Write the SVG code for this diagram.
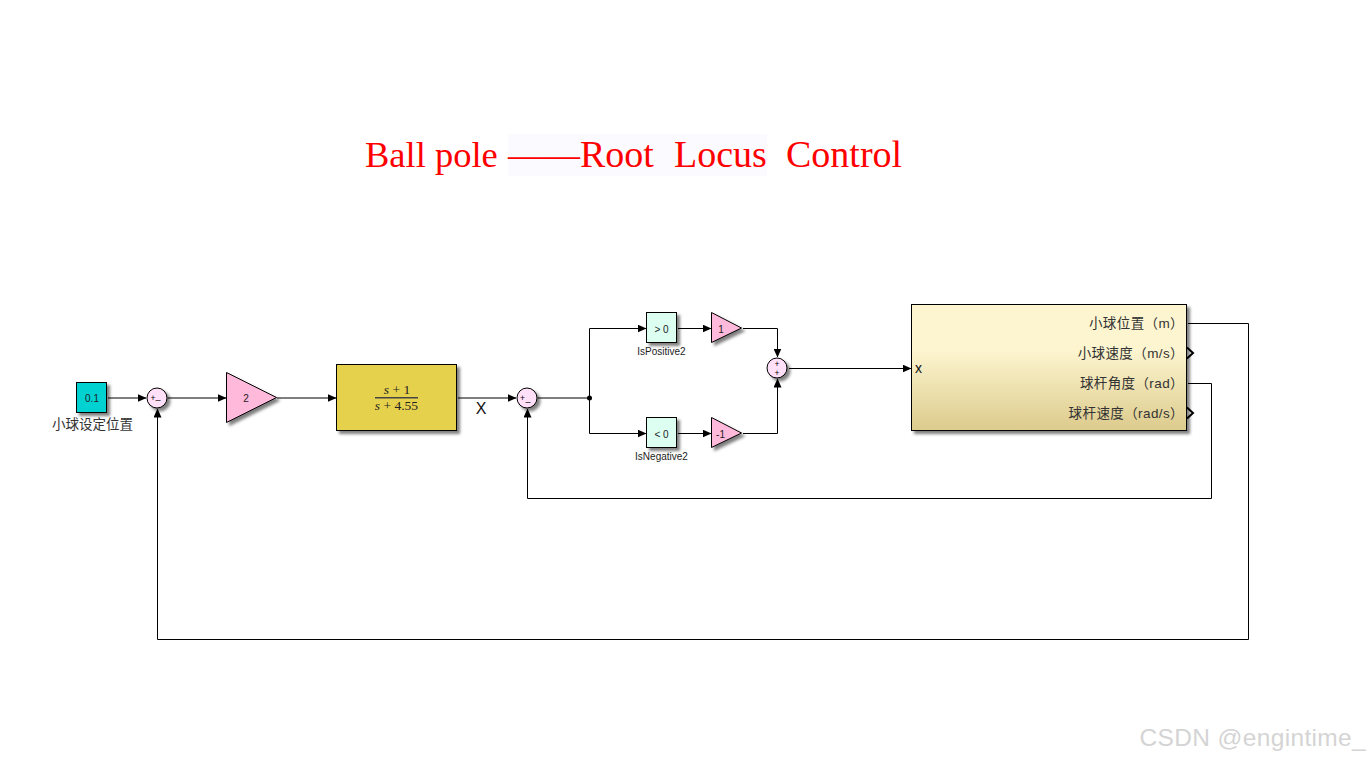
<svg xmlns="http://www.w3.org/2000/svg" width="1372" height="760" viewBox="0 0 1372 760">
<style>
.b{stroke:#000;stroke-width:1}
.sh{filter:url(#s)}
.w{fill:none;stroke:#000;stroke-width:1}
text{font-family:"Liberation Sans","Noto Sans CJK SC",sans-serif;fill:#222}
.t8{font-size:10px;text-anchor:middle}
.lb{font-size:13.500px;fill:#333;letter-spacing:.4px}
.e{text-anchor:end}
.m{font-family:"Liberation Serif","Noto Sans CJK SC",serif;font-size:13.500px;text-anchor:middle;fill:#222}
.gain{fill:#ffb9da;stroke:#000}
.sum{fill:#ffe0f8;stroke:#000}
.cmp{fill:#dcfff2;stroke:#000}
.sg{font-size:8.500px;text-anchor:middle;fill:#000}
.ti{font-family:"Liberation Serif",serif;font-size:38px;fill:#f00}
</style>
<defs>
<filter id="s" x="-20%" y="-20%" width="150%" height="150%"><feDropShadow dx="3" dy="3" stdDeviation="1.6" flood-color="#000" flood-opacity=".5"/></filter>
<linearGradient id="g" x1="0" y1="0" x2="0" y2="1"><stop offset="0" stop-color="#fdf5d0"/><stop offset=".36" stop-color="#fdf5d0"/><stop offset="1" stop-color="#dccb8c"/></linearGradient>
<marker id="a" markerWidth="9" markerHeight="8" refX="8.500" refY="4" orient="auto" markerUnits="userSpaceOnUse"><path d="M0 0L9 4L0 8Z" fill="#000"/></marker>
</defs>
<rect width="1372" height="760" fill="#fff"/>
<g id="title">
<rect x="508" y="134" width="259" height="42" fill="#fafaff"/>
<text class="ti" style="font-size:36.500px" x="365" y="167">Ball pole</text>
<text class="ti" style="font-size:36px" x="508" y="167">——</text>
<text class="ti" x="580" y="167">Root</text>
<text class="ti" x="674" y="167">Locus</text>
<text class="ti" x="786" y="167">Control</text>
</g>
<g id="connectors">
<path class="w" marker-end="url(#a)" d="M108 398H146"/>
<path class="w" marker-end="url(#a)" d="M168 398H226"/>
<path class="w" d="M277 398H336" marker-end="url(#a)"/>
<path class="w" marker-end="url(#a)" d="M458 398H516"/>
<path class="w" d="M538 398H589.500"/>
<path class="w" marker-end="url(#a)" d="M589.500 398V328.500H646"/>
<path class="w" marker-end="url(#a)" d="M589.500 398V433.500H646"/>
<path class="w" marker-end="url(#a)" d="M678 328.500H711"/>
<path class="w" marker-end="url(#a)" d="M678 433.500H711"/>
<path class="w" marker-end="url(#a)" d="M743 328.500H777.500V357"/>
<path class="w" marker-end="url(#a)" d="M743 433.500H777.500V379"/>
<path class="w" marker-end="url(#a)" d="M789 368.500H911"/>
<path class="w" marker-end="url(#a)" d="M1188 383.500H1211.500V498.500H527.500V409"/>
<path class="w" marker-end="url(#a)" d="M1188 323.500H1248.500V639.500H157.500V409"/>
<circle cx="589.500" cy="398" r="2.500" fill="#000"/>
</g>
<g id="constant">
<rect class="sh" x="76.500" y="382.500" width="30" height="30" fill="#00d2d2" stroke="#000"/>
<text class="t8" x="92" y="401.500">0.1</text>
<text class="lb" x="92.500" y="428.500" text-anchor="middle" style="letter-spacing:0">小球设定位置</text>
</g>
<g id="sum1">
<circle class="sh sum" cx="157" cy="398" r="10"/>
<text class="sg" x="153" y="401">+</text><text class="sg" x="158" y="403" style="font-size:9px">–</text>
</g>
<g id="gain2">
<path class="sh gain" d="M226.500 372.500L276.500 397.500L226.500 422.500Z"/>
<text class="t8" x="246" y="401.500">2</text>
</g>
<g id="tf">
<rect class="sh" x="336.500" y="364.500" width="120" height="66" fill="#e6d14e" stroke="#000"/>
<text class="m" x="397" y="394"><tspan font-style="italic">s</tspan> + 1</text>
<rect x="375" y="397" width="43" height="1.500" fill="#444"/>
<text class="m" x="396.500" y="410"><tspan font-style="italic">s</tspan> + 4.55</text>
</g>
<g id="labelX"><text x="481" y="414" text-anchor="middle" style="font-size:16px;fill:#111">X</text></g>
<g id="sum2">
<circle class="sh sum" cx="527" cy="398" r="10"/>
<text class="sg" x="522.500" y="401">+</text><text class="sg" x="528" y="405" style="font-size:9px">–</text>
</g>
<g id="isPositive">
<rect class="sh cmp" x="646.500" y="312.500" width="30" height="30"/>
<text class="t8" x="661.500" y="332.500">&gt; 0</text>
<text class="t8" x="661.500" y="355">IsPositive2</text>
</g>
<g id="isNegative">
<rect class="sh cmp" x="646.500" y="417.500" width="30" height="30"/>
<text class="t8" x="661.500" y="437.500">&lt; 0</text>
<text class="t8" x="661.500" y="460">IsNegative2</text>
</g>
<g id="gain1">
<path class="sh gain" d="M711.500 312.500L741.500 328L711.500 342.500Z"/>
<text class="t8" x="721" y="332.500">1</text>
</g>
<g id="gainNeg">
<path class="sh gain" d="M711.500 417.500L741.500 433L711.500 447.500Z"/>
<text class="t8" x="720.500" y="437.500">-1</text>
</g>
<g id="sum3">
<circle class="sh sum" cx="777" cy="368" r="10"/>
<text class="sg" x="777" y="366.500">+</text><text class="sg" x="777" y="376">+</text>
</g>
<g id="plant">
<rect class="sh" x="911.500" y="304.500" width="275" height="126" fill="url(#g)" stroke="#000"/>
<text x="915" y="373" style="font-size:14px;fill:#111">x</text>
<text class="lb e" x="1184" y="327.500">小球位置（m）</text>
<text class="lb e" x="1184" y="357.500">小球速度（m/s）</text>
<text class="lb e" x="1184" y="387.500">球杆角度（rad）</text>
<text class="lb e" x="1184" y="417.500">球杆速度（rad/s）</text>
<path d="M1187 347.500L1193 353L1187 358.500" fill="none" stroke="#000" stroke-width="2"/>
<path d="M1187 407.500L1193 413L1187 418.500" fill="none" stroke="#000" stroke-width="2"/>
</g>
<g id="watermark"><text x="1139.500" y="746" style="font-size:24.500px;fill:#d4d4d4;letter-spacing:.35px">CSDN @engintime_</text></g>
</svg>
